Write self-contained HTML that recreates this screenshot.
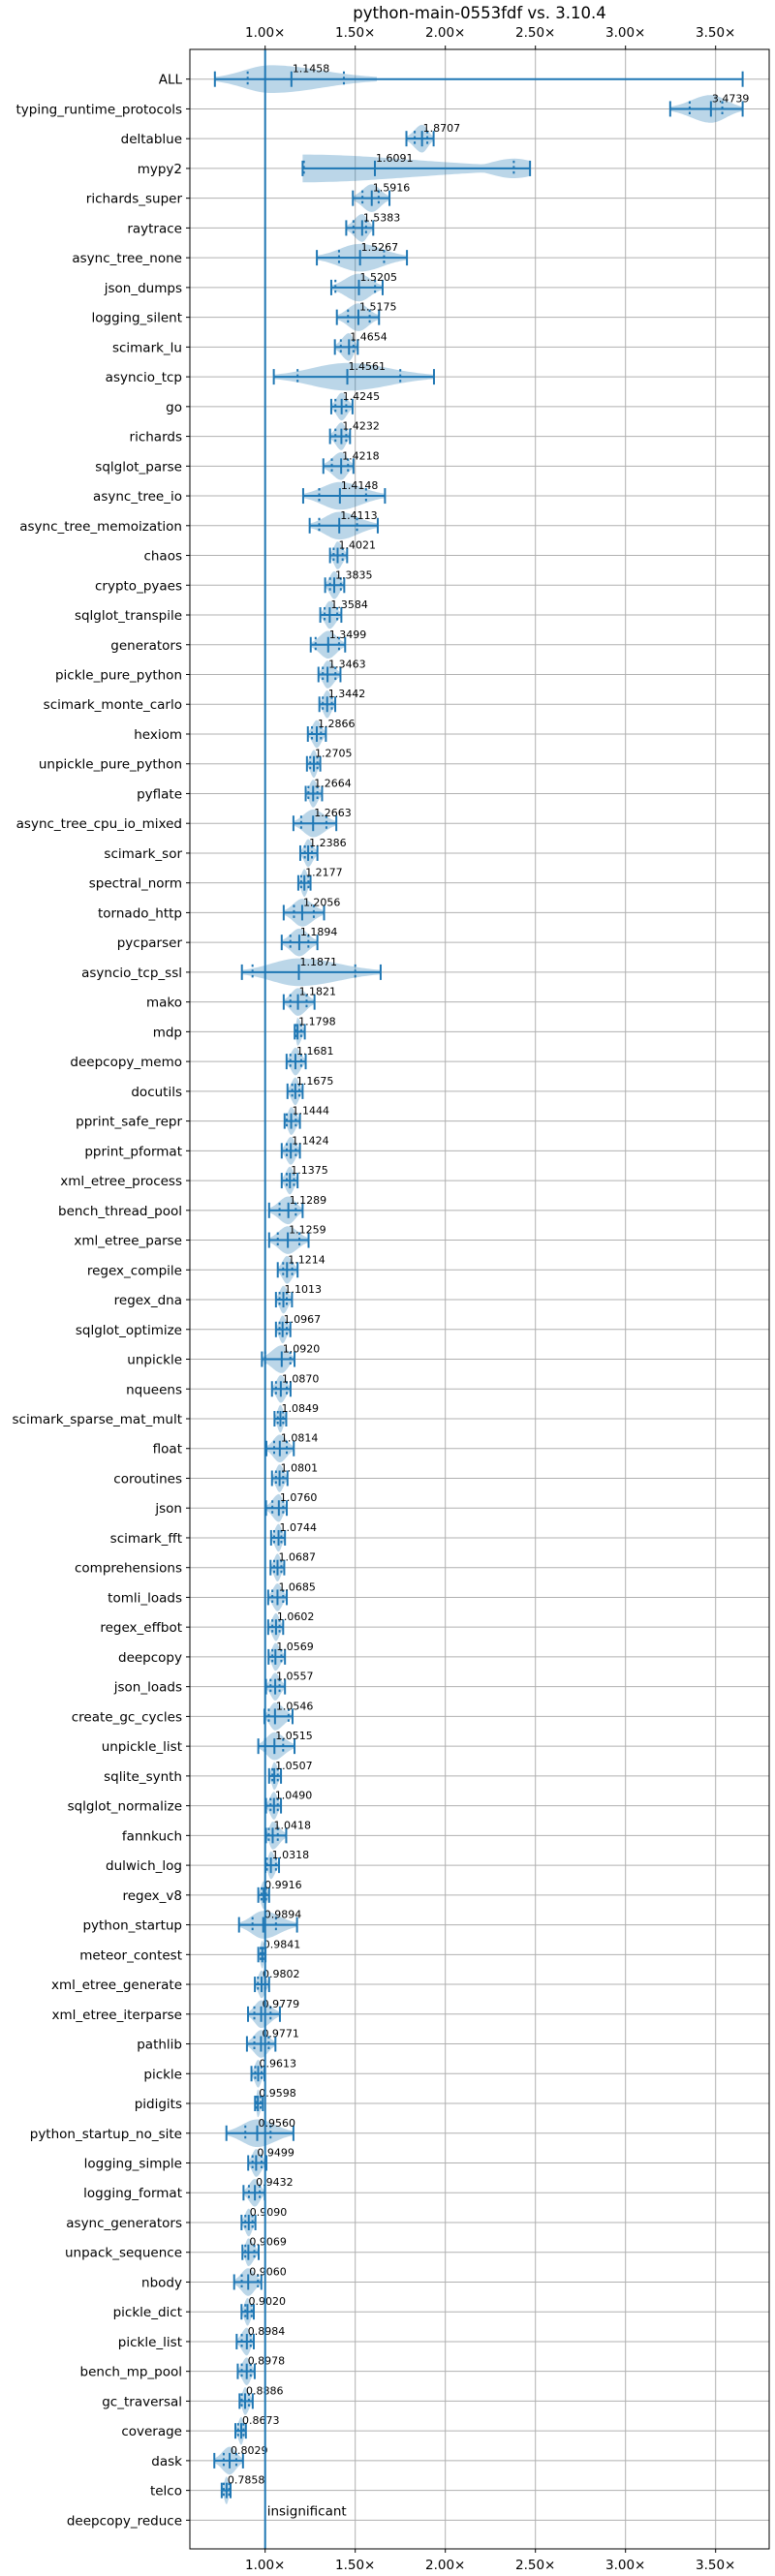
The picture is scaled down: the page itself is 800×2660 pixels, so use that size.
<!DOCTYPE html>
<html><head><meta charset="utf-8"><style>
body{margin:0;background:#fff;}
svg{display:block;font-family:"DejaVu Sans","Liberation Sans",sans-serif;}
</style></head><body>
<svg id="chart" width="800" height="2660" xmlns="http://www.w3.org/2000/svg"></svg>
<script>
const names=["ALL","typing_runtime_protocols","deltablue","mypy2","richards_super","raytrace","async_tree_none","json_dumps","logging_silent","scimark_lu","asyncio_tcp","go","richards","sqlglot_parse","async_tree_io","async_tree_memoization","chaos","crypto_pyaes","sqlglot_transpile","generators","pickle_pure_python","scimark_monte_carlo","hexiom","unpickle_pure_python","pyflate","async_tree_cpu_io_mixed","scimark_sor","spectral_norm","tornado_http","pycparser","asyncio_tcp_ssl","mako","mdp","deepcopy_memo","docutils","pprint_safe_repr","pprint_pformat","xml_etree_process","bench_thread_pool","xml_etree_parse","regex_compile","regex_dna","sqlglot_optimize","unpickle","nqueens","scimark_sparse_mat_mult","float","coroutines","json","scimark_fft","comprehensions","tomli_loads","regex_effbot","deepcopy","json_loads","create_gc_cycles","unpickle_list","sqlite_synth","sqlglot_normalize","fannkuch","dulwich_log","regex_v8","python_startup","meteor_contest","xml_etree_generate","xml_etree_iterparse","pathlib","pickle","pidigits","python_startup_no_site","logging_simple","logging_format","async_generators","unpack_sequence","nbody","pickle_dict","pickle_list","bench_mp_pool","gc_traversal","coverage","dask","telco","deepcopy_reduce"];
const medians=[1.1458,3.4739,1.8707,1.6091,1.5916,1.5383,1.5267,1.5205,1.5175,1.4654,1.4561,1.4245,1.4232,1.4218,1.4148,1.4113,1.4021,1.3835,1.3584,1.3499,1.3463,1.3442,1.2866,1.2705,1.2664,1.2663,1.2386,1.2177,1.2056,1.1894,1.1871,1.1821,1.1798,1.1681,1.1675,1.1444,1.1424,1.1375,1.1289,1.1259,1.1214,1.1013,1.0967,1.0920,1.0870,1.0849,1.0814,1.0801,1.0760,1.0744,1.0687,1.0685,1.0602,1.0569,1.0557,1.0546,1.0515,1.0507,1.0490,1.0418,1.0318,0.9916,0.9894,0.9841,0.9802,0.9779,0.9771,0.9613,0.9598,0.9560,0.9499,0.9432,0.9090,0.9069,0.9060,0.9020,0.8984,0.8978,0.8886,0.8673,0.8029,0.7858,null];
const mins=[0.721,3.248,1.784,1.208,1.487,1.45,1.287,1.367,1.398,1.387,1.048,1.367,1.36,1.323,1.211,1.247,1.36,1.333,1.306,1.253,1.296,1.301,1.237,1.232,1.225,1.157,1.195,1.184,1.103,1.092,0.871,1.103,1.164,1.119,1.124,1.108,1.092,1.092,1.022,1.022,1.07,1.06,1.06,0.982,1.038,1.052,1.007,1.038,1.005,1.033,1.03,1.017,1.017,1.019,1.005,0.996,0.962,1.022,1.005,1.005,1.002,0.962,0.855,0.962,0.943,0.905,0.899,0.924,0.944,0.785,0.906,0.88,0.869,0.874,0.828,0.869,0.842,0.848,0.858,0.835,0.718,0.759,null];
const maxs=[3.65,3.65,1.935,2.47,1.69,1.60,1.787,1.652,1.632,1.514,1.937,1.485,1.471,1.49,1.665,1.625,1.455,1.439,1.423,1.444,1.418,1.389,1.337,1.306,1.316,1.395,1.29,1.252,1.327,1.29,1.641,1.274,1.22,1.225,1.208,1.193,1.193,1.18,1.208,1.241,1.18,1.149,1.14,1.163,1.141,1.117,1.159,1.124,1.12,1.11,1.106,1.12,1.1,1.11,1.11,1.152,1.163,1.088,1.088,1.117,1.077,1.022,1.177,1.002,1.022,1.082,1.057,0.996,0.987,1.157,1.007,0.998,0.946,0.964,0.979,0.937,0.937,0.942,0.931,0.893,0.877,0.808,null];
const q1s=[0.903,3.356,1.83,1.215,1.54,1.49,1.41,1.39,1.46,1.42,1.18,1.39,1.39,1.37,1.30,1.30,1.38,1.36,1.33,1.28,1.32,1.32,1.26,1.25,1.24,1.20,1.22,1.20,1.16,1.14,0.93,1.14,1.17,1.14,1.15,1.12,1.12,1.12,1.08,1.07,1.10,1.08,1.08,1.00,1.06,1.07,1.05,1.06,1.04,1.05,1.05,1.04,1.04,1.04,1.03,1.02,1.00,1.04,1.03,1.02,1.01,0.98,0.93,0.975,0.96,0.94,0.94,0.945,0.95,0.89,0.93,0.91,0.89,0.89,0.87,0.89,0.87,0.87,0.87,0.85,0.77,0.77,null];
const q3s=[1.437,3.537,1.90,2.38,1.63,1.56,1.66,1.61,1.58,1.49,1.75,1.45,1.45,1.46,1.56,1.51,1.43,1.42,1.40,1.41,1.39,1.37,1.31,1.29,1.29,1.34,1.26,1.24,1.27,1.24,1.50,1.23,1.20,1.20,1.19,1.17,1.17,1.16,1.17,1.19,1.15,1.12,1.12,1.14,1.12,1.10,1.12,1.10,1.10,1.09,1.09,1.10,1.08,1.09,1.08,1.13,1.10,1.07,1.07,1.07,1.06,1.005,1.06,0.99,1.0,1.03,1.02,0.98,0.975,1.03,0.98,0.97,0.93,0.94,0.96,0.925,0.92,0.92,0.91,0.88,0.84,0.80,null];
// density peak location where it differs from the median (ALL, mypy2)
const modeOverrides={"ALL":1.03,"mypy2":1.21};
const bodyMaxOverrides={"ALL":1.62};
const secondModes={"mypy2":2.38};
const ticks=[1.0,1.5,2.0,2.5,3.0,3.5];
const tickLabels=["1.00×","1.50×","2.00×","2.50×","3.00×","3.50×"];

const svg=document.getElementById('chart');
const NS="http://www.w3.org/2000/svg";
const L=196,R=794,T=51,B=2632,Y0=81.7,DY=30.74;
const C="#1f77b4";
function x(v){return 273.7+(v-1)*186;}
function y(i){return Y0+i*DY;}
function mk(tag,attrs,parent){const e=document.createElementNS(NS,tag);for(const k in attrs)e.setAttribute(k,attrs[k]);(parent||svg).appendChild(e);return e;}

const title=mk('text',{x:495,y:19,'text-anchor':'middle','font-size':'16.5'});
title.textContent="python-main-0553fdf vs. 3.10.4";



const grid=mk('g',{});


ticks.forEach((t,i)=>{
  mk('line',{x1:x(t),x2:x(t),y1:T,y2:B,stroke:'#b0b0b0','stroke-width':1},grid);
  const a=mk('text',{x:x(t),y:38,'text-anchor':'middle','font-size':'13.5'});
  a.textContent=tickLabels[i];
  
  
  const b=mk('text',{x:x(t),y:2653,'text-anchor':'middle','font-size':'13.5'});
  b.textContent=tickLabels[i];
  
  
  mk('line',{x1:x(t),x2:x(t),y1:T,y2:T-4,stroke:'#000'});
  mk('line',{x1:x(t),x2:x(t),y1:B,y2:B+4,stroke:'#000'});
});
names.forEach((n,i)=>{
  mk('line',{x1:L,x2:R,y1:y(i),y2:y(i),stroke:'#b0b0b0','stroke-width':1},grid);
  mk('line',{x1:L-4,x2:L,y1:y(i),y2:y(i),stroke:'#000'});
  const t=mk('text',{x:L-8,y:y(i)+5,'text-anchor':'end','font-size':'13.5'});
  t.textContent=n;
  
  
});

names.forEach((n,i)=>{
  const cy=y(i);
  if(medians[i]===null){
    const t=mk('text',{x:x(1.0)+2,y:cy-5,'font-size':'13.5'});
    t.textContent="insignificant";
    
    
    return;
  }
  const g=mk('g',{});
  
  
  const lo=mins[i],hi=maxs[i],md=medians[i];
  const mode=(n in modeOverrides)?modeOverrides[n]:md;
  const bhi=(n in bodyMaxOverrides)?bodyMaxOverrides[n]:hi;
  const H=13.5, N=60;
  const sL=Math.max(mode-lo,(bhi-lo)*0.15), sR=Math.max(bhi-mode,0.01);
  let top=[],bot=[];
  for(let k=0;k<=N;k++){
    const v=lo+(bhi-lo)*k/N;
    const s=v<mode?sL:sR;
    const d=(v-mode)/s;
    let h=H*Math.exp(-2.2*d*d)+0.8;
    if(n in secondModes){const d2=(v-secondModes[n])/0.18;h=Math.max(h,H*0.75*Math.exp(-d2*d2));}
    top.push(x(v).toFixed(1)+','+(cy-h).toFixed(1));
    bot.unshift(x(v).toFixed(1)+','+(cy+h).toFixed(1));
  }
  mk('polygon',{points:top.concat(bot).join(' '),fill:C,'fill-opacity':0.3,stroke:'none'},g);
  mk('line',{x1:x(lo),x2:x(hi),y1:cy,y2:cy,stroke:C,'stroke-width':2},g);
  [lo,hi,md].forEach(v=>mk('line',{x1:x(v),x2:x(v),y1:cy-8,y2:cy+8,stroke:C,'stroke-width':2},g));
  [q1s[i],q3s[i]].forEach(v=>mk('line',{x1:x(v),x2:x(v),y1:cy-8,y2:cy+8,stroke:C,'stroke-width':2,'stroke-dasharray':'2.5,3'},g));
  const lab=mk('text',{x:x(md)+1,y:cy-7,'font-size':'11'});
  lab.textContent=md.toFixed(4);
  
  
});

const base=mk('line',{x1:x(1.0),x2:x(1.0),y1:T,y2:B,stroke:C,'stroke-width':2});


const frame=mk('rect',{x:L,y:T,width:R-L,height:B-T,fill:'none',stroke:'#000','stroke-width':1});


</script>
</body></html>
